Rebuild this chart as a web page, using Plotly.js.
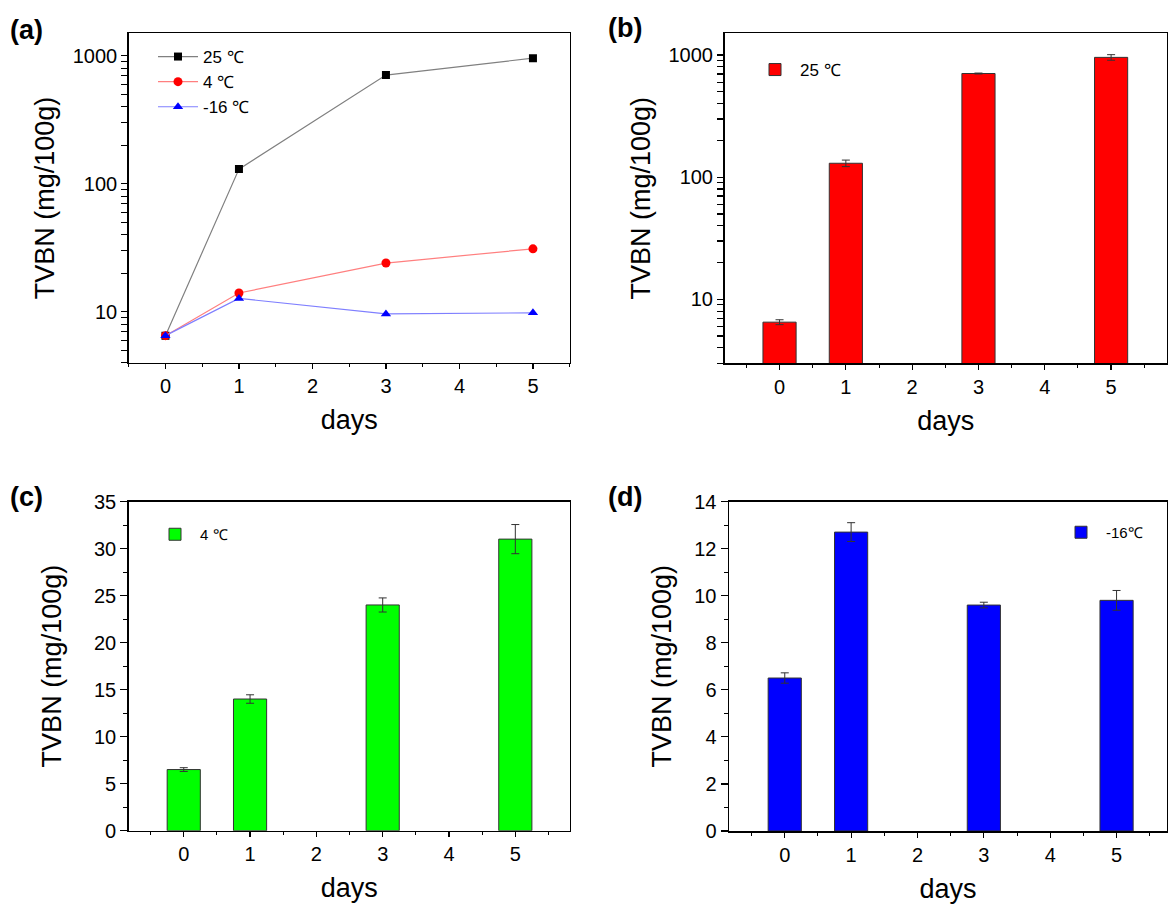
<!DOCTYPE html>
<html>
<head>
<meta charset="utf-8">
<script src="https://cdn.plot.ly/plotly-3.0.1.min.js"></script>
<style>
html,body{margin:0;padding:0;background:#fff;}
#chart{width:1168px;height:907px;}
</style>
</head>
<body>
<div id="chart"></div>
<script>
// ---- data ----
const days = [0, 1, 3, 5];
const labels25 = "25 ℃";
const labels4 = "4 ℃";
const labelsM16 = "-16 ℃";
const labelsM16b = "-16℃";

// mean TVBN values (mg/100g)
const tvbn25 = [6.5, 130, 706, 957];
const tvbn4 = [6.5, 14.0, 24.0, 31.0];
const tvbnM16 = [6.5, 12.7, 9.6, 9.8];

// standard deviations
const err25 = [0.3, 8, 6, 50];
const err4 = [0.2, 0.45, 0.75, 1.55];
const errM16 = [0.22, 0.4, 0.12, 0.42];

const xTickVals = [0, 1, 2, 3, 4, 5];
const logTickVals = [10, 100, 1000];

// ---- styling helpers ----
const W = 1168, H = 907;
const FONT = "Liberation Sans, Arial, sans-serif";
const px2x = p => p / W;
const px2y = p => 1 - p / H;

// tick positions for log axes: labelled decades plus unlabelled 2..9 in each decade
const logAllTicks = [];
[1, 10, 100, 1000].forEach(d => { for (let k = 1; k <= 9; k++) logAllTicks.push(k * d); });
const logAllText = logAllTicks.map(v => logTickVals.includes(v) ? String(v) : '');

function xaxis(dom, range, anchor) {
  return {
    domain: dom, range: range, anchor: anchor,
    tickmode: 'array', tickvals: xTickVals, ticktext: xTickVals.map(String),
    ticks: 'outside', ticklen: 5, tickwidth: 1.2, tickcolor: '#000',
    minor: {tickmode: 'linear', dtick: 0.5, tick0: 0.5, ticks: 'outside', ticklen: 3, tickwidth: 1, tickcolor: '#000', showgrid: false},
    showline: true, mirror: true, linecolor: '#000', linewidth: 1.5,
    showgrid: false, zeroline: false,
    tickfont: {family: FONT, size: 20, color: '#000'},
    title: {text: 'days', font: {family: FONT, size: 27, color: '#000'}, standoff: 14}
  };
}
function yaxisBase(dom, anchor, standoff) {
  return {
    domain: dom, anchor: anchor,
    ticks: 'outside', ticklen: 7, tickwidth: 1.2, tickcolor: '#000',
    showline: true, mirror: true, linecolor: '#000', linewidth: 1.5,
    showgrid: false, zeroline: false,
    tickfont: {family: FONT, size: 20, color: '#000'},
    title: {text: 'TVBN (mg/100g)', font: {family: FONT, size: 27, color: '#000'}, standoff: standoff}
  };
}

const errStyle = arr => ({type: 'data', array: arr, visible: true, color: '#333', thickness: 1, width: 4});

const traces = [
  // (a)
  {x: days, y: tvbn25, name: labels25, type: 'scatter', mode: 'lines+markers', xaxis: 'x', yaxis: 'y', legend: 'legend',
   line: {color: '#808080', width: 1.2}, marker: {symbol: 'square', size: 8, color: '#000'}},
  {x: days, y: tvbn4, name: labels4, type: 'scatter', mode: 'lines+markers', xaxis: 'x', yaxis: 'y', legend: 'legend',
   line: {color: '#ff7f7f', width: 1.2}, marker: {symbol: 'circle', size: 9, color: '#ff0000'}},
  {x: days, y: tvbnM16, name: labelsM16, type: 'scatter', mode: 'lines+markers', xaxis: 'x', yaxis: 'y', legend: 'legend',
   line: {color: '#7f7fff', width: 1.2}, marker: {symbol: 'triangle-up', size: 9, color: '#0000ff'}},
  // (b)
  {x: days, y: tvbn25, name: labels25, type: 'bar', xaxis: 'x2', yaxis: 'y2', legend: 'legend2', width: 0.5,
   marker: {color: '#ff0000', line: {color: '#333', width: 1}}, error_y: errStyle(err25)},
  // (c)
  {x: days, y: tvbn4, name: labels4, type: 'bar', xaxis: 'x3', yaxis: 'y3', legend: 'legend3', width: 0.5,
   marker: {color: '#00ff00', line: {color: '#333', width: 1}}, error_y: errStyle(err4)},
  // (d)
  {x: days, y: tvbnM16, name: labelsM16b, type: 'bar', xaxis: 'x4', yaxis: 'y4', legend: 'legend4', width: 0.5,
   marker: {color: '#0000ff', line: {color: '#333', width: 1}}, error_y: errStyle(errM16)}
];

const legendBase = {bgcolor: 'rgba(0,0,0,0)', borderwidth: 0, xanchor: 'left', yanchor: 'top',
  font: {family: FONT, size: 17, color: '#000'}, itemwidth: 40, tracegroupgap: 0};

const ya = yaxisBase([px2y(362.7), px2y(33.3)], 'x', 10);
ya.type = 'log'; ya.range = [0.6016, 3.175]; ya.ticklen = 6;
ya.tickmode = 'array'; ya.tickvals = logAllTicks; ya.ticktext = logAllText;

const yb = yaxisBase([px2y(363.3), px2y(33.3)], 'x2', 10);
yb.type = 'log'; yb.range = [0.476, 3.178]; yb.ticklen = 6;
yb.tickmode = 'array'; yb.tickvals = logAllTicks; yb.ticktext = logAllText;

const yc = yaxisBase([px2y(830.7), px2y(501.5)], 'x3', 24);
yc.range = [0, 35]; yc.dtick = 5; yc.tick0 = 0;
yc.minor = {tickmode: 'linear', dtick: 2.5, tick0: 0, ticks: 'outside', ticklen: 4, tickwidth: 1, tickcolor: '#000', showgrid: false};

const yd = yaxisBase([px2y(831), px2y(501.5)], 'x4', 15);
yd.range = [0, 14]; yd.dtick = 2; yd.tick0 = 0;
yd.minor = {tickmode: 'linear', dtick: 1, tick0: 0, ticks: 'outside', ticklen: 4, tickwidth: 1, tickcolor: '#000', showgrid: false};

const panelLabel = (t, x, y) => ({text: '<b>' + t + '</b>', xref: 'paper', yref: 'paper', x: px2x(x), y: px2y(y),
  xanchor: 'left', yanchor: 'middle', showarrow: false, font: {family: FONT, size: 27, color: '#000'}});

const layout = {
  width: W, height: H,
  margin: {l: 0, r: 0, t: 0, b: 0},
  paper_bgcolor: '#fff', plot_bgcolor: '#fff',
  font: {family: FONT, color: '#000'},
  xaxis: xaxis([px2x(128.7), px2x(569.7)], [-0.5, 5.5], 'y'),
  yaxis: ya,
  xaxis2: xaxis([px2x(724.5), px2x(1166.8)], [-0.83, 5.84], 'y2'),
  yaxis2: yb,
  xaxis3: xaxis([px2x(128.7), px2x(569.7)], [-0.83, 5.82], 'y3'),
  yaxis3: yc,
  xaxis4: xaxis([px2x(729), px2x(1167)], [-0.84, 5.76], 'y4'),
  yaxis4: yd,
  legend: Object.assign({}, legendBase, {x: px2x(153), y: px2y(39)}),
  legend2: Object.assign({}, legendBase, {x: px2x(750), y: px2y(52)}),
  legend3: Object.assign({}, legendBase, {x: px2x(150), y: px2y(518), font: {family: FONT, size: 15, color: '#000'}}),
  legend4: Object.assign({}, legendBase, {x: px2x(1056), y: px2y(516), font: {family: FONT, size: 15, color: '#000'}}),
  showlegend: true,
  annotations: [
    panelLabel('(a)', 8, 30),
    panelLabel('(b)', 606, 28),
    panelLabel('(c)', 8, 497),
    panelLabel('(d)', 606, 497)
  ]
};

Plotly.newPlot('chart', traces, layout, {displayModeBar: false, staticPlot: true});
</script>
</body>
</html>
